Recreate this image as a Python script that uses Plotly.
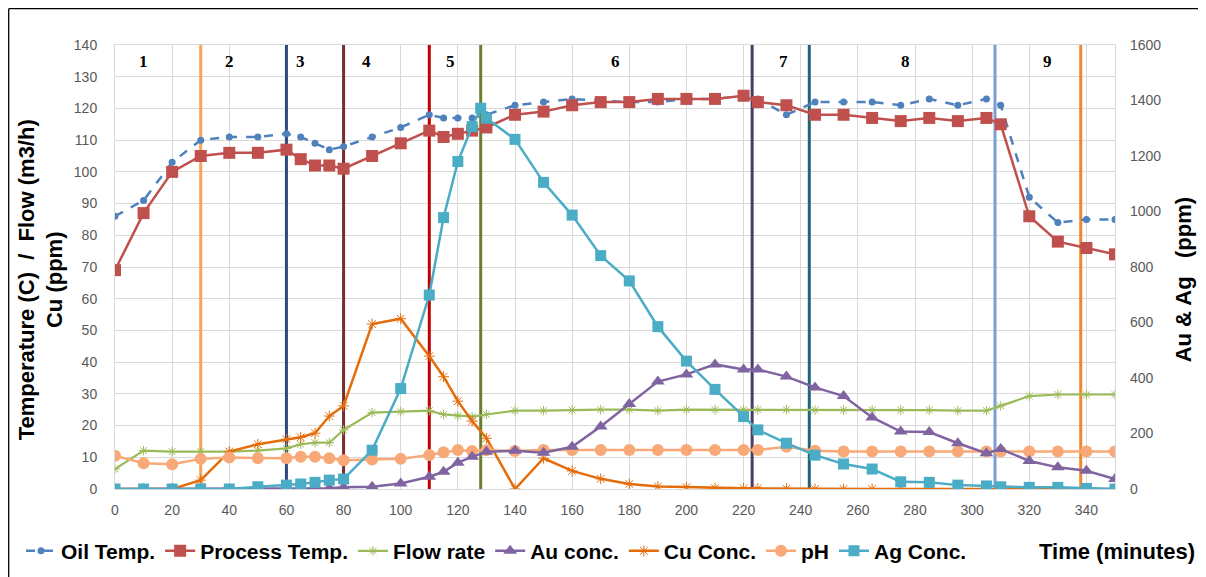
import plotly.graph_objects as go

# ---------------- data ----------------
T = [0, 10, 20, 30, 40, 50, 60, 65, 70, 75, 80, 90, 100, 110, 115, 120, 125, 130,
     140, 150, 160, 170, 180, 190, 200, 210, 220, 225, 235,
     245, 255, 265, 275, 285, 295, 305, 310, 320, 330, 340, 350]

oil_temp = [86, 91, 103, 110, 111, 111, 112, 111, 109, 107, 108, 111, 114, 118, 117, 117, 117, 118,
            121, 122, 123, 122.5, 122, 122, 123, 123, 124, 123, 118,
            122, 122, 122, 121, 123, 121, 123, 121, 92, 84, 85, 85]

process_temp = [69, 87, 100, 105, 106, 106, 107, 104, 102, 102, 101, 105, 109, 113, 111, 112, 113, 114,
                118, 119, 121, 122, 122, 123, 123, 123, 124, 122, 121,
                118, 118, 117, 116, 117, 116, 117, 115, 86, 78, 76, 74]

flow_rate = [6.3, 12.1, 11.8, 11.8, 11.8, 12.1, 12.8, 14.1, 14.6, 14.6, 18.6, 24.1, 24.4, 24.7, 23.5, 23.1, 22.8, 23.5,
             24.7, 24.7, 24.9, 25, 25, 24.7, 25, 25, 25, 25, 25,
             24.9, 24.9, 24.9, 24.9, 24.9, 24.7, 24.7, 26.2, 29.3, 29.8, 29.7, 29.8]

au_conc = [0, 0, 0, 0, 0, 0, 1, 2, 2, 3, 6, 8, 20, 44, 62, 95, 116, 134,
           138, 131, 152, 225, 306, 387, 413, 449, 431, 431, 405,
           366, 335, 258, 207, 205, 165, 129, 144, 101, 78, 66, 36]

cu_conc = [0, 0, 0, 2.8, 11.8, 14.1, 15.7, 16.3, 17.6, 23, 26.2, 52, 53.7, 41.9, 35.4, 27.7, 21.4, 16,
           0, 9.7, 5.7, 3.2, 1.6, 0.8, 0.6, 0.3, 0.2, 0.2, 0.1,
           0, 0, 0, 0, 0, 0, 0, 0, 0, 0, 0, 0]

ph = [10.5, 8.1, 7.8, 9.5, 9.9, 9.7, 9.7, 10.2, 10.2, 9.7, 9.1, 9.3, 9.5, 10.7, 11.6, 12.3, 12.0, 12.2,
      12.0, 12.3, 12.3, 12.3, 12.3, 12.3, 12.3, 12.3, 12.3, 12.3, 13.3,
      12.1, 11.8, 11.8, 11.8, 11.8, 11.8, 11.8, 11.8, 11.8, 11.8, 11.8, 11.8]

T_ag = [0, 10, 20, 30, 40, 50, 60, 65, 70, 75, 80, 90, 100, 110, 115, 120, 125, 128, 130,
        140, 150, 160, 170, 180, 190, 200, 210, 220, 225, 235,
        245, 255, 265, 275, 285, 295, 305, 310, 320, 330, 340, 350]
ag_conc = [0, 0, 0, 0, 0, 8, 14, 18, 24, 32, 36, 140, 362, 699, 978, 1180, 1306, 1372, 1336,
           1260, 1105, 987, 841, 750, 585, 461, 359, 261, 213, 165,
           122, 90, 72, 26, 24, 14, 11, 8, 6, 6, 2, 0]

phase_bounds = [30, 60, 80, 110, 128, 223, 243, 308, 338]
phase_colors = ["#F7A35C", "#2E4A7D", "#7B2C2C", "#C00000", "#6A7F2E",
                "#4A3C6A", "#1F6676", "#7C9ED6", "#F0882E"]
phase_labels = ["1", "2", "3", "4", "5", "6", "7", "8", "9"]
phase_label_x = [10, 40, 65, 88, 117.5, 175, 234, 276.5, 326.5]

y_left_range = [0, 140]
x_ticks = list(range(0, 341, 20))

# ---------------- figure ----------------
fig = go.Figure()

# phase boundary lines (drawn first so data sits on top)
for xb, col in zip(phase_bounds, phase_colors):
    fig.add_trace(go.Scatter(x=[xb, xb], y=y_left_range, mode="lines", showlegend=False,
                             hoverinfo="skip", line=dict(color=col, width=3), cliponaxis=False))

fig.add_trace(go.Scatter(x=T, y=oil_temp, name="Oil Temp.", mode="lines+markers",
                         line=dict(color="#4F81BD", width=2.5, dash="dash"),
                         marker=dict(symbol="circle", size=7, color="#4F81BD")))
fig.add_trace(go.Scatter(x=T, y=process_temp, name="Process Temp.", mode="lines+markers",
                         line=dict(color="#C0504D", width=2.5),
                         marker=dict(symbol="square", size=12, color="#C0504D")))
fig.add_trace(go.Scatter(x=T, y=flow_rate, name="Flow rate", mode="lines+markers",
                         line=dict(color="#9BBB59", width=2.2),
                         marker=dict(symbol="asterisk-open", size=8,
                                     line=dict(color="#9BBB59", width=1))))
fig.add_trace(go.Scatter(x=T, y=au_conc, name="Au conc.", mode="lines+markers", yaxis="y2",
                         line=dict(color="#8064A2", width=2.5),
                         marker=dict(symbol="triangle-up", size=12, color="#8064A2")))
fig.add_trace(go.Scatter(x=T, y=cu_conc, name="Cu Conc.", mode="lines+markers",
                         line=dict(color="#E46C0A", width=2.5),
                         marker=dict(symbol="asterisk-open", size=9,
                                     line=dict(color="#E46C0A", width=1))))
fig.add_trace(go.Scatter(x=T, y=ph, name="pH", mode="lines+markers",
                         line=dict(color="#F9A977", width=2.5),
                         marker=dict(symbol="circle", size=12, color="#F9A977")))
fig.add_trace(go.Scatter(x=T_ag, y=ag_conc, name="Ag Conc.", mode="lines+markers", yaxis="y2",
                         line=dict(color="#4BACC6", width=2.5),
                         marker=dict(symbol="square", size=11, color="#4BACC6")))

# outer chart border: only the left and top edges are visible in the crop
border = dict(color="#000000", width=1.3)
shapes = [
    dict(type="line", xref="paper", yref="paper", x0=-0.1063, x1=-0.1063, y0=-0.25, y1=1.0818,
         line=border, layer="above"),
    dict(type="line", xref="paper", yref="paper", x0=-0.1063, x1=1.11, y0=1.0818, y1=1.0818,
         line=border, layer="above"),
]

title_font = dict(family="Liberation Sans, Arial", size=22, color="#000000", weight="bold")
legend_font = dict(family="Liberation Sans, Arial", size=21, color="#000000", weight="bold")

annotations = []
for lab, lx in zip(phase_labels, phase_label_x):
    annotations.append(dict(x=lx, y=134.8, xref="x", yref="y", text=lab, showarrow=False,
                            font=dict(family="Liberation Serif, DejaVu Serif, serif", size=17,
                                      color="#000000", weight="bold")))
annotations.append(dict(x=-0.074, y=0.47, xref="paper", yref="paper", xanchor="center", yanchor="middle",
                        text="Temperature (C)  /  Flow (m3/h)<br>Cu (ppm)",
                        textangle=-90, showarrow=False, align="center", font=title_font))
annotations.append(dict(x=1.068, y=0.47, xref="paper", yref="paper", xanchor="center", yanchor="middle",
                        text="Au & Ag   (ppm)", textangle=-90, showarrow=False, font=title_font))
annotations.append(dict(x=1.082, y=-0.14, xref="paper", yref="paper", xanchor="right", yanchor="middle",
                        text="Time (minutes)", showarrow=False, font=title_font))

tickfont = dict(family="Liberation Sans, Arial, sans-serif", size=14, color="#595959")

fig.update_layout(
    width=1206, height=577,
    paper_bgcolor="white", plot_bgcolor="white",
    margin=dict(l=107, r=99, t=37, b=96, autoexpand=False),
    shapes=shapes, annotations=annotations,
    showlegend=True,
    legend=dict(orientation="h", x=-0.094, xanchor="left", y=-0.14, yanchor="middle",
                font=legend_font, itemwidth=30, tracegroupgap=0, bgcolor="rgba(0,0,0,0)"),
    xaxis=dict(range=[0, 350], tickvals=x_ticks, showgrid=True, gridcolor="#D9D9D9", gridwidth=1,
               zeroline=False, showline=True, mirror=True, linecolor="#D9D9D9", linewidth=1,
               ticks="", tickfont=tickfont, ticklabelstandoff=8, automargin=False),
    yaxis=dict(range=y_left_range, dtick=10, showgrid=True, gridcolor="#D9D9D9", gridwidth=1,
               zeroline=False, showline=True, mirror=True, linecolor="#D9D9D9", linewidth=1,
               ticks="", tickfont=tickfont, ticklabelstandoff=14, automargin=False),
    yaxis2=dict(range=[0, 1600], dtick=200, overlaying="y", side="right", showgrid=False,
                zeroline=False, showline=False, ticks="", tickfont=tickfont, ticklabelstandoff=14,
                automargin=False),
)

fig.write_html("out.html")
